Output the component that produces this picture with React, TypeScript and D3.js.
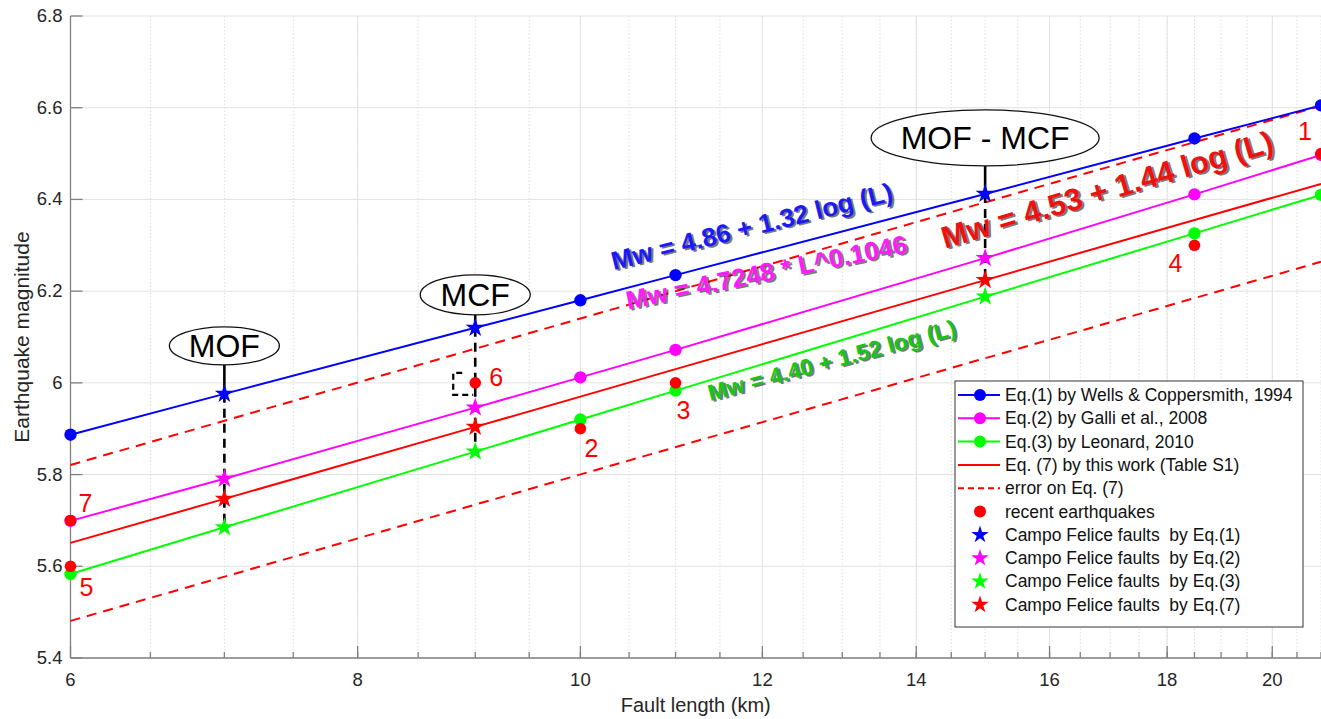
import React, { useEffect } from "react";
import * as d3 from "d3";

const W = 1321;
const H = 719;
const FONT = "'Liberation Sans', Arial, Helvetica, sans-serif";

// fault lengths (km) at which the relations are drawn
const lengthsKm = [6, 7, 9, 10, 11, 15, 18.5, 21];
// Eq.(1) Wells & Coppersmith 1994
const wellsMw = [5.887, 5.976, 6.12, 6.18, 6.235, 6.412, 6.533, 6.605];
// Eq.(2) Galli et al. 2008
const galliMw = [5.699, 5.791, 5.946, 6.012, 6.072, 6.272, 6.411, 6.497];
// Eq.(3) Leonard 2010
const leonardMw = [5.583, 5.685, 5.85, 5.92, 5.983, 6.188, 6.326, 6.41];
// Eq.(7) this work
const thisWorkMw = [5.651, 5.747, 5.904, 5.97, 6.03, 6.224, 6.355, 6.434];

// error band on Eq.(7)
const errorLengthsKm = [6, 21];
const errorUpperMw = [5.821, 6.604];
const errorLowerMw = [5.481, 6.264];

// where the round markers sit on the literature curves
const circleLengthsKm = [6, 10, 11, 18.5, 21];

// Campo Felice faults
const faultNames = ["MOF", "MCF", "MOF - MCF"];
const faultLengthsKm = [7, 9, 15];

// recent earthquakes
const quakeIds = ["1", "2", "3", "4", "5", "6", "7"];
const quakeLengthsKm = [21, 10, 11, 18.5, 6, 9, 6];
const quakeMw = [6.5, 5.9, 6.0, 6.3, 5.6, 6.0, 5.7];

const xTicks = [6, 8, 10, 12, 14, 16, 18, 20];
const xMinorTicks = d3.range(6.5, 21.01, 0.5);
const yTicks = [5.4, 5.6, 5.8, 6, 6.2, 6.4, 6.6, 6.8];

const BLUE = "#0000ff";
const MAGENTA = "#ff00ff";
const GREEN = "#00ff00";
const RED = "#ff0000";

const curves = [
  { values: wellsMw, color: BLUE },
  { values: galliMw, color: MAGENTA },
  { values: leonardMw, color: GREEN },
];

// label offsets (px) from each earthquake dot
const quakeLabelOffsets = [
  [-16, -23],
  [11, 19],
  [8, 27],
  [-19, 18],
  [16, 21],
  [21, -6],
  [15, -17],
];

// ellipse callouts above the blue stars
const faultCallouts = [
  { gap: 48, rx: 55, ry: 19, end: leonardMw },
  { gap: 33, rx: 55, ry: 20, end: leonardMw },
  { gap: 56, rx: 114, ry: 28, end: thisWorkMw },
];

// equation labels, anchored (baseline middle) in data units
const eqLabels = [
  { text: "Mw = 4.86 + 1.32 log (L)", color: "#1a1aff", L: 11.9, mw: 6.322, angle: -14, size: 26 },
  { text: "Mw = 4.7248 * L^0.1046", color: "#ff1aff", L: 12.07, mw: 6.222, angle: -11.5, size: 26 },
  { text: "Mw = 4.40 + 1.52 log (L)", color: "#14c814", L: 12.89, mw: 6.032, angle: -15, size: 23 },
  { text: "Mw = 4.53 + 1.44 log (L)", color: "#ee1111", L: 17.0, mw: 6.399, angle: -16.5, size: 31 },
];

const legendItems = [
  { label: "Eq.(1) by Wells & Coppersmith, 1994", color: BLUE, kind: "lineDot" },
  { label: "Eq.(2) by Galli et al., 2008", color: MAGENTA, kind: "lineDot" },
  { label: "Eq.(3) by Leonard, 2010", color: GREEN, kind: "lineDot" },
  { label: "Eq. (7) by this work (Table S1)", color: RED, kind: "line" },
  { label: "error on Eq. (7)", color: RED, kind: "dash" },
  { label: "recent earthquakes", color: RED, kind: "dot" },
  { label: "Campo Felice faults  by Eq.(1)", color: BLUE, kind: "star" },
  { label: "Campo Felice faults  by Eq.(2)", color: MAGENTA, kind: "star" },
  { label: "Campo Felice faults  by Eq.(3)", color: GREEN, kind: "star" },
  { label: "Campo Felice faults  by Eq.(7)", color: RED, kind: "star" },
];

const starPath = d3.symbol(d3.symbolStar, 115)() || "";
const legendStarPath = d3.symbol(d3.symbolStar, 95)() || "";

export default function App() {
  useEffect(() => {
    document.body.style.margin = "0";
  }, []);

  const x = d3.scaleLog().domain([6, 21]).range([70.5, 1321]);
  const y = d3.scaleLinear().domain([5.4, 6.8]).range([658, 16]);
  const left = x.range()[0];
  const bottom = y.range()[0];
  const top = y.range()[1];

  const line = (ls: number[]) =>
    d3
      .line<number>()
      .x((_, i) => x(ls[i]))
      .y((d) => y(d));

  const valAt = (arr: number[], L: number) => arr[lengthsKm.indexOf(L)];

  const allStars = [
    { values: wellsMw, color: BLUE },
    { values: galliMw, color: MAGENTA },
    { values: leonardMw, color: GREEN },
    { values: thisWorkMw, color: RED },
  ];

  const lg = { x: 955, y: 381, w: 348, h: 246, row0: 395, step: 23.3 };

  return (
    <svg width={W} height={H} style={{ display: "block", background: "#fff" }} fontFamily={FONT}>
      {/* grid */}
      <g>
        {xMinorTicks.map((t) => (
          <line key={"xm" + t} x1={x(t)} x2={x(t)} y1={top} y2={bottom} stroke="#dedede" strokeWidth={1} strokeDasharray="1.5,2" />
        ))}
        {xTicks.map((t) => (
          <line key={"xg" + t} x1={x(t)} x2={x(t)} y1={top} y2={bottom} stroke="#e2e2e2" strokeWidth={1} />
        ))}
        {yTicks.map((t) => (
          <line key={"yg" + t} x1={left} x2={W} y1={y(t)} y2={y(t)} stroke="#e2e2e2" strokeWidth={1} />
        ))}
      </g>

      {/* axes */}
      <g stroke="#808080" strokeWidth={1.3}>
        <line x1={left} x2={left} y1={top} y2={bottom} />
        <line x1={left} x2={W} y1={bottom} y2={bottom} />
        {yTicks.map((t) => (
          <line key={"yt" + t} x1={left} x2={left + 12} y1={y(t)} y2={y(t)} />
        ))}
        {xTicks.map((t) => (
          <line key={"xt" + t} x1={x(t)} x2={x(t)} y1={bottom} y2={bottom - 12} />
        ))}
        {xMinorTicks.map((t) => (
          <line key={"xmt" + t} x1={x(t)} x2={x(t)} y1={bottom} y2={bottom - 6} />
        ))}
      </g>
      <g fill="#262626" fontSize={18.5}>
        {yTicks.map((t) => (
          <text key={"yl" + t} x={left - 8} y={y(t) + 6} textAnchor="end">
            {d3.format("~g")(t)}
          </text>
        ))}
        {xTicks.map((t) => (
          <text key={"xl" + t} x={x(t)} y={bottom + 28} textAnchor="middle">
            {t}
          </text>
        ))}
      </g>
      <text x={(left + W) / 2} y={712} textAnchor="middle" fontSize={20} fill="#262626">
        Fault length (km)
      </text>
      <text transform={`translate(29,${(top + bottom) / 2}) rotate(-90)`} textAnchor="middle" fontSize={21} fill="#262626">
        Earthquake magnitude
      </text>

      {/* error band on Eq.(7) */}
      {[errorUpperMw, errorLowerMw].map((vals, k) => (
        <path key={"err" + k} d={line(errorLengthsKm)(vals) || ""} fill="none" stroke={RED} strokeWidth={2} strokeDasharray="10,7" />
      ))}

      {/* Eq.(7) */}
      <path d={line(lengthsKm)(thisWorkMw) || ""} fill="none" stroke={RED} strokeWidth={2} />

      {/* literature relations */}
      {curves.map((c, k) => (
        <g key={"c" + k}>
          <path d={line(lengthsKm)(c.values) || ""} fill="none" stroke={c.color} strokeWidth={2} />
          {circleLengthsKm.map((L) => (
            <circle key={L} cx={x(L)} cy={y(valAt(c.values, L))} r={6.2} fill={c.color} />
          ))}
        </g>
      ))}

      {/* fault callout stems */}
      {faultLengthsKm.map((L, i) => {
        const cx = x(L);
        const yb = y(valAt(wellsMw, L));
        const c = faultCallouts[i];
        const ell = yb - c.gap;
        return (
          <g key={"stem" + i} stroke="#000" strokeWidth={2.6} fill="none">
            <line x1={cx} x2={cx} y1={ell + c.ry} y2={yb} />
            <line x1={cx} x2={cx} y1={yb} y2={y(valAt(c.end, L))} strokeDasharray="9,6" />
          </g>
        );
      })}

      {/* bracket beside quake 6 */}
      {(() => {
        const bx = x(quakeLengthsKm[5]);
        const by = y(quakeMw[5]);
        return (
          <path
            d={`M${bx - 13},${by - 10} L${bx - 22},${by - 10} L${bx - 22},${by + 12} L${bx - 2},${by + 12}`}
            fill="none"
            stroke="#000"
            strokeWidth={2.2}
            strokeDasharray="6,4"
          />
        );
      })()}

      {/* recent earthquakes */}
      {quakeIds.map((id, i) => (
        <circle key={"q" + id} cx={x(quakeLengthsKm[i])} cy={y(quakeMw[i])} r={5.8} fill={RED} />
      ))}

      {/* Campo Felice stars */}
      {allStars.map((s, k) =>
        faultLengthsKm.map((L) => (
          <path key={"s" + k + L} d={starPath} transform={`translate(${x(L)},${y(valAt(s.values, L))})`} fill={s.color} />
        ))
      )}

      {/* quake numbers */}
      {quakeIds.map((id, i) => (
        <text
          key={"ql" + id}
          x={x(quakeLengthsKm[i]) + quakeLabelOffsets[i][0]}
          y={y(quakeMw[i]) + quakeLabelOffsets[i][1] + 9}
          textAnchor="middle"
          fontSize={25}
          fill={RED}
        >
          {id}
        </text>
      ))}

      {/* ellipses */}
      {faultLengthsKm.map((L, i) => {
        const cx = x(L);
        const c = faultCallouts[i];
        const cy = y(valAt(wellsMw, L)) - c.gap;
        return (
          <g key={"e" + i}>
            <ellipse cx={cx} cy={cy} rx={c.rx} ry={c.ry} fill="#fff" stroke="#111" strokeWidth={1.3} />
            <text x={cx} y={cy + 11} textAnchor="middle" fontSize={32} fill="#000">
              {faultNames[i]}
            </text>
          </g>
        );
      })}

      {/* equation labels */}
      {eqLabels.map((e, k) => (
        <g key={"eq" + k} transform={`translate(${x(e.L)},${y(e.mw)}) rotate(${e.angle})`} fontWeight="bold" fontSize={e.size} textAnchor="middle">
          <text x={1.8} y={1.8} fill="#333" opacity={0.65}>
            {e.text}
          </text>
          <text x={0} y={0} fill={e.color}>
            {e.text}
          </text>
        </g>
      ))}

      {/* legend */}
      <g>
        <rect x={lg.x} y={lg.y} width={lg.w} height={lg.h} fill="#fff" stroke="#333" strokeWidth={1} />
        {legendItems.map((it, i) => {
          const ry = lg.row0 + i * lg.step;
          return (
            <g key={"lg" + i}>
              {(it.kind === "lineDot" || it.kind === "line") && (
                <line x1={958} x2={1000} y1={ry} y2={ry} stroke={it.color} strokeWidth={2} />
              )}
              {it.kind === "dash" && (
                <line x1={958} x2={1000} y1={ry} y2={ry} stroke={it.color} strokeWidth={2} strokeDasharray="6,4" />
              )}
              {(it.kind === "lineDot" || it.kind === "dot") && <circle cx={980} cy={ry} r={6} fill={it.color} />}
              {it.kind === "star" && <path d={legendStarPath} transform={`translate(980,${ry})`} fill={it.color} />}
              <text x={1005} y={ry + 6} fontSize={17.5} fill="#111" style={{ whiteSpace: "pre" }}>
                {it.label}
              </text>
            </g>
          );
        })}
      </g>
    </svg>
  );
}
